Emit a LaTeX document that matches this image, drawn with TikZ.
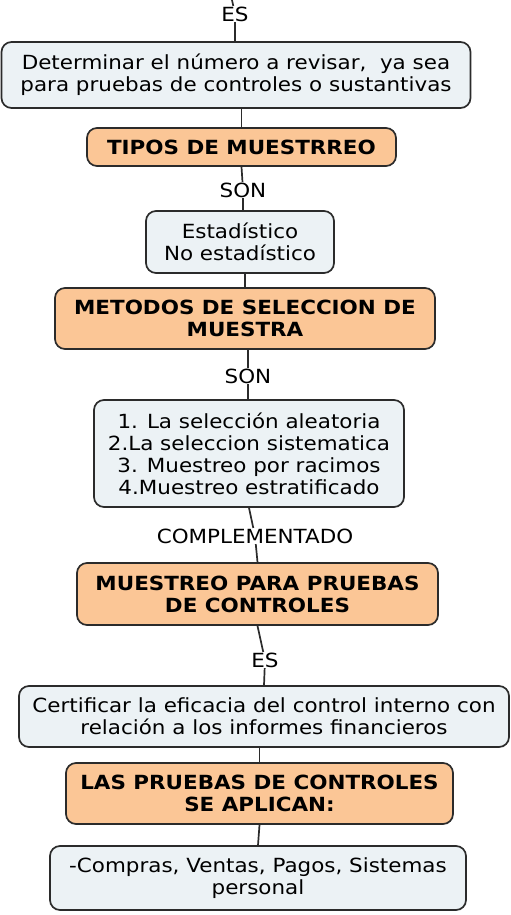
\documentclass[tikz,border=0pt]{standalone}
\usepackage{fontspec}
\setmainfont[FakeStretch=1.1]{DejaVu Sans}
\definecolor{boxblue}{HTML}{ECF2F5}
\definecolor{boxorange}{HTML}{FBC696}
\definecolor{edge}{HTML}{2B2B2B}
\begin{document}
\begin{tikzpicture}[x=1pt,y=-1pt,
  base/.style={draw=edge,line width=1.7pt,rounded corners=10pt,align=center,inner sep=2pt,
    font=\fontsize{19.5}{22}\selectfont},
  concept/.style={base,fill=boxblue},
  title/.style={base,fill=boxorange,font=\fontsize{19.5}{22}\selectfont\bfseries},
  lbl/.style={inner sep=0.5pt,font=\fontsize{19.5}{22}\selectfont},
  conn/.style={draw=edge,line width=1.7pt}]
\fill[white] (0,0) rectangle (511,915);
\useasboundingbox (0,0) rectangle (511,915);

\coordinate (top) at (232,0);
\node[lbl] (es1) at (235,14) {ES};
\node[concept,minimum width=469pt,minimum height=66pt] (b1) at (236,75)
  {Determinar el número a revisar,~ ya sea\\para pruebas de controles o sustantivas};
\node[title,minimum width=309pt,minimum height=38pt] (t1) at (241.5,147) {TIPOS DE MUESTRREO};
\node[lbl] (son1) at (243,190) {SON};
\node[concept,minimum width=188pt,minimum height=62pt] (b2) at (240,242)
  {Estadístico\\No estadístico};
\node[title,minimum width=380pt,minimum height=61pt] (t2) at (245,318.5)
  {METODOS DE SELECCION DE\\MUESTRA};
\node[lbl] (son2) at (248,376) {SON};
\node[concept,minimum width=310pt,minimum height=107pt] (b3) at (249,453.5)
  {1. La selección aleatoria\\2.La seleccion sistematica\\3. Muestreo por racimos\\4.Muestreo estratificado};
\node[lbl] (comp) at (255,536) {COMPLEMENTADO};
\node[title,minimum width=361pt,minimum height=62pt] (t3) at (257.5,594)
  {MUESTREO PARA PRUEBAS\\DE CONTROLES};
\node[lbl] (es2) at (265,660) {ES};
\node[concept,minimum width=490pt,minimum height=61pt] (b4) at (264,716.5)
  {Certificar la eficacia del control interno con\\relación a los informes financieros};
\node[title,minimum width=387pt,minimum height=61pt] (t4) at (259.5,793.5)
  {LAS PRUEBAS DE CONTROLES\\SE APLICAN:};
\node[concept,minimum width=416pt,minimum height=64pt] (b5) at (258,878)
  {-Compras, Ventas, Pagos, Sistemas\\personal};

\draw[conn] (top) -- (es1);
\draw[conn] (es1) -- (b1.north -| es1.south);
\draw[conn] (b1.south -| t1.north) -- (t1.north);
\draw[conn] (t1.south) -- (son1);
\draw[conn] (son1) -- (b2.north -| son1.south);
\draw[conn] (b2.south -| t2.north) -- (t2.north);
\draw[conn] (t2.south -| son2.north) -- (son2);
\draw[conn] (son2) -- (b3.north -| son2.south);
\draw[conn] (b3.south) -- (comp);
\draw[conn] (comp) -- (t3.north);
\draw[conn] (t3.south) -- (es2);
\draw[conn] (es2) -- (b4.north);
\draw[conn] (b4.south -| t4.north) -- (t4.north);
\draw[conn] (t4.south) -- (b5.north);
\end{tikzpicture}
\end{document}
